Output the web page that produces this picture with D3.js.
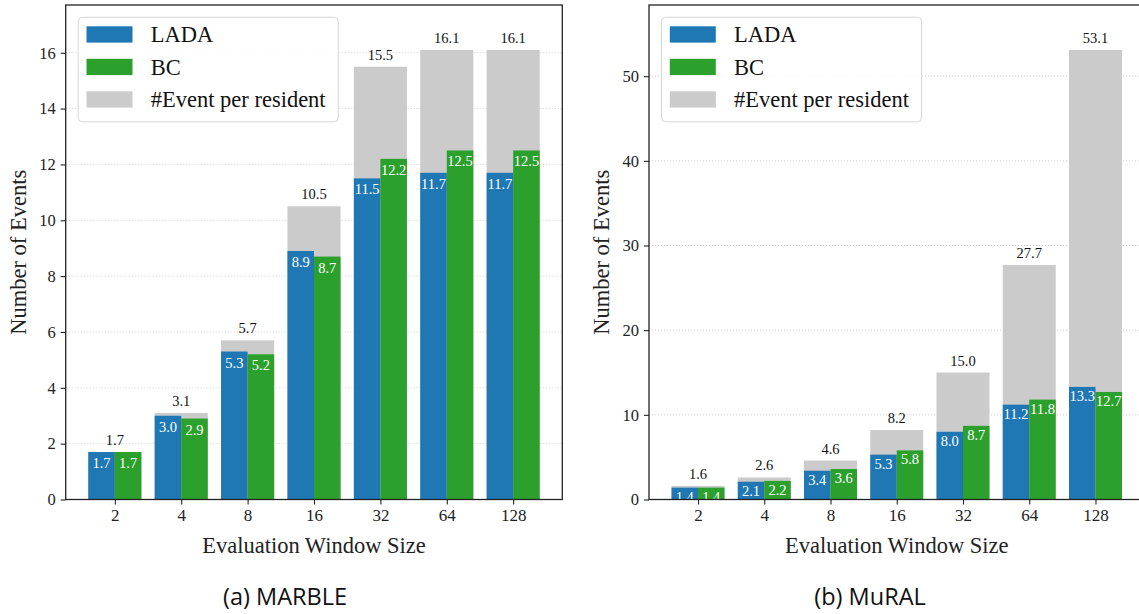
<!DOCTYPE html>
<html>
<head>
<meta charset="utf-8">
<script src="https://cdn.jsdelivr.net/npm/d3@7"></script>
<style>
  html, body { margin: 0; padding: 0; background: #fff; }
  svg { display: block; }
</style>
</head>
<body>
<svg id="chart" width="1139" height="614"></svg>
<script>
// ---------- data ----------
const categories = ["2", "4", "8", "16", "32", "64", "128"];
const seriesNames = ["LADA", "BC", "#Event per resident"];

const marbleLADA  = [1.7, 3.0, 5.3, 8.9, 11.5, 11.7, 11.7];
const marbleBC    = [1.7, 2.9, 5.2, 8.7, 12.2, 12.5, 12.5];
const marbleTotal = [1.7, 3.1, 5.7, 10.5, 15.5, 16.1, 16.1];
const marbleTicks = [0, 2, 4, 6, 8, 10, 12, 14, 16];

const muralLADA  = [1.4, 2.1, 3.4, 5.3, 8.0, 11.2, 13.3];
const muralBC    = [1.4, 2.2, 3.6, 5.8, 8.7, 11.8, 12.7];
const muralTotal = [1.6, 2.6, 4.6, 8.2, 15.0, 27.7, 53.1];
const muralTicks = [0, 10, 20, 30, 40, 50];

const xLabel = "Evaluation Window Size";
const yLabel = "Number of Events";

// ---------- style ----------
const colors = { lada: "#1f77b4", bc: "#2ca02c", total: "#cbcbcb" };
const serif = "'Liberation Serif', 'Times New Roman', serif";

const svg = d3.select("#chart");

function panel(opts) {
  const { left, right, top, bottom, lada, bc, total, ticks, caption, captionX, ylabX, labOffset, clipId } = opts;
  const ymax = d3.max(total) * 1.1;
  const x = d3.scaleLinear().domain([-0.74, categories.length - 1 + 0.74]).range([left, right]);
  const y = d3.scaleLinear().domain([0, ymax]).range([bottom, top]);
  const half = 0.4;

  const g = svg.append("g");

  svg.append("defs").append("clipPath").attr("id", clipId)
    .append("rect").attr("x", left).attr("y", top).attr("width", right - left).attr("height", bottom - top);

  // grid
  g.append("g").selectAll("line").data(ticks).join("line")
    .attr("x1", left).attr("x2", right)
    .attr("y1", d => y(d)).attr("y2", d => y(d))
    .attr("stroke", "#c8c8c8").attr("stroke-width", 0.9)
    .attr("stroke-dasharray", "1,2");

  const bars = g.append("g").attr("clip-path", `url(#${clipId})`);
  bars.selectAll(".tot").data(total).join("rect")
    .attr("x", (d, i) => x(i - half)).attr("width", (d, i) => x(i + half) - x(i - half))
    .attr("y", d => y(d)).attr("height", d => y(0) - y(d))
    .attr("fill", colors.total);
  bars.selectAll(".lada").data(lada).join("rect")
    .attr("x", (d, i) => x(i - half)).attr("width", (d, i) => x(i) - x(i - half))
    .attr("y", d => y(d)).attr("height", d => y(0) - y(d))
    .attr("fill", colors.lada);
  bars.selectAll(".bc").data(bc).join("rect")
    .attr("x", (d, i) => x(i)).attr("width", (d, i) => x(i + half) - x(i))
    .attr("y", d => y(d)).attr("height", d => y(0) - y(d))
    .attr("fill", colors.bc);

  bars.selectAll(".ladaLab").data(lada).join("text")
    .attr("x", (d, i) => x(i - half / 2)).attr("y", d => y(d) + labOffset)
    .attr("text-anchor", "middle").attr("dominant-baseline", "central")
    .attr("font-family", serif).attr("font-size", 14.5).attr("fill", "#fff")
    .text(d => d.toFixed(1));
  bars.selectAll(".bcLab").data(bc).join("text")
    .attr("x", (d, i) => x(i + half / 2)).attr("y", d => y(d) + labOffset)
    .attr("text-anchor", "middle").attr("dominant-baseline", "central")
    .attr("font-family", serif).attr("font-size", 14.5).attr("fill", "#fff")
    .text(d => d.toFixed(1));
  g.selectAll(".totLab").data(total).join("text")
    .attr("x", (d, i) => x(i)).attr("y", d => y(d) - 7)
    .attr("text-anchor", "middle")
    .attr("font-family", serif).attr("font-size", 14.5).attr("fill", "#111")
    .text(d => d.toFixed(1));

  g.append("rect").attr("x", left).attr("y", top).attr("width", right - left).attr("height", bottom - top)
    .attr("fill", "none").attr("stroke", "#222").attr("stroke-width", 1.3);

  const xAxis = d3.axisBottom(x).tickValues(d3.range(categories.length))
    .tickFormat(i => categories[i]).tickSize(5).tickPadding(4);
  const gx = g.append("g").attr("transform", `translate(0,${bottom})`).call(xAxis);
  gx.select(".domain").remove();
  gx.selectAll("line").attr("stroke", "#222").attr("stroke-width", 1.1);
  gx.selectAll("text").attr("font-family", serif).attr("font-size", 17).attr("fill", "#222");

  const yAxis = d3.axisLeft(y).tickValues(ticks).tickSize(5).tickPadding(5);
  const gy = g.append("g").attr("transform", `translate(${left},0)`).call(yAxis);
  gy.select(".domain").remove();
  gy.selectAll("line").attr("stroke", "#222").attr("stroke-width", 1.1);
  gy.selectAll("text").attr("font-family", serif).attr("font-size", 16.5).attr("fill", "#222");

  g.append("text").attr("x", (left + right) / 2).attr("y", 553)
    .attr("text-anchor", "middle").attr("font-family", serif).attr("font-size", 22.5).attr("fill", "#222")
    .text(xLabel);
  g.append("text").attr("transform", `translate(${ylabX},${(top + bottom) / 2}) rotate(-90)`)
    .attr("text-anchor", "middle").attr("font-family", serif).attr("font-size", 22.5).attr("fill", "#222")
    .text(yLabel);

  const lx = left + 12.5, ly = top + 12.3;
  const lg = g.append("g");
  lg.append("rect").attr("x", lx).attr("y", ly).attr("width", 260).attr("height", 104.5)
    .attr("rx", 4).attr("fill", "#fff").attr("fill-opacity", 0.85)
    .attr("stroke", "#d6d6d6").attr("stroke-width", 1);
  const legendColors = [colors.lada, colors.bc, colors.total];
  seriesNames.forEach((name, i) => {
    const ry = ly + 9 + i * 32.5;
    lg.append("rect").attr("x", lx + 8.3).attr("y", ry).attr("width", 46).attr("height", 16.3)
      .attr("fill", legendColors[i]);
    lg.append("text").attr("x", lx + 72.5).attr("y", ry + 15.8)
      .attr("font-family", serif).attr("font-size", 22.5).attr("fill", "#111").text(name);
  });

  svg.append("text").attr("x", captionX).attr("y", 605)
    .attr("text-anchor", "middle").attr("font-family", "'Open Sans', 'Noto Sans', sans-serif")
    .attr("font-size", 23.5).attr("fill", "#111").text(caption);
}

panel({ left: 65.7, right: 562.3, top: 5, bottom: 499.5, lada: marbleLADA, bc: marbleBC, total: marbleTotal,
        ticks: marbleTicks, caption: "(a) MARBLE", captionX: 285, ylabX: 26, labOffset: 11, clipId: "clipA" });
panel({ left: 649, right: 1144.5, top: 5, bottom: 499.5, lada: muralLADA, bc: muralBC, total: muralTotal,
        ticks: muralTicks, caption: "(b) MuRAL", captionX: 870, ylabX: 609, labOffset: 9, clipId: "clipB" });
</script>
</body>
</html>
